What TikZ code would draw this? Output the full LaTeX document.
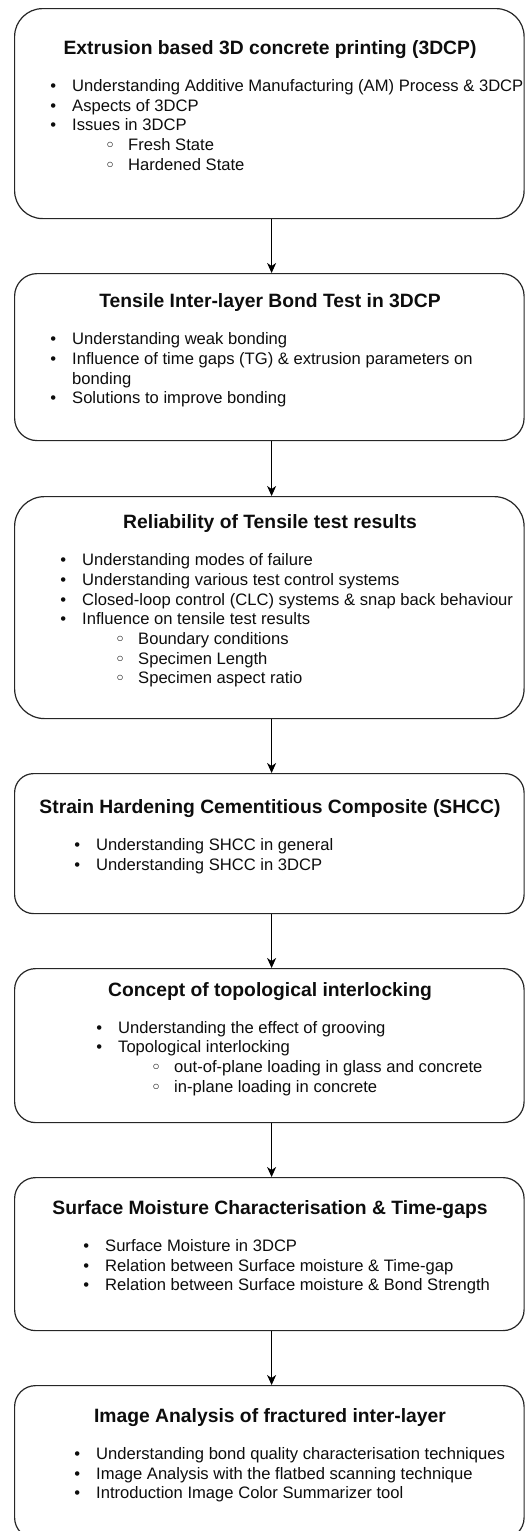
\documentclass[tikz,border=0pt]{standalone}
\usepackage{fontspec}
\setmainfont{Liberation Sans}
\newfontfamily\symfont{DejaVu Sans}
\usetikzlibrary{arrows.meta}
\newcommand\bitem[4]{\node[itm] (#1) at (#2-3,#3) {\makebox[6pt][c]{•}\hspace{16pt}#4};}
\newcommand\sitem[4]{\node[itm] (#1) at (#2+54,#3) {\makebox[6pt][c]{\symfont\bfseries\fontsize{15}{15}\selectfont ◦}\hspace{15pt}#4};}
\begin{document}
\begin{tikzpicture}[x=1pt,y=-1pt,
  box/.style={draw=black!85, line width=1.2pt, rectangle, inner sep=0pt, anchor=north west, minimum width=509.5pt},
  ttl/.style={font=\fontsize{19.3}{23}\selectfont\bfseries, anchor=base, inner sep=0pt, text=black!95},
  itm/.style={font=\fontsize{16.6}{19.7}\selectfont, anchor=base west, inner sep=0pt, text=black!95},
  arr/.style={-{Stealth[length=10pt,width=9pt,inset=3pt]}, line width=1.1pt}
]
\useasboundingbox (0,0) rectangle (525,1531);

% boxes
\node[box, minimum height=210pt, rounded corners=28pt] (b1) at (14,8) {};
\node[box, minimum height=167pt, rounded corners=22.5pt] (b2) at (14,273) {};
\node[box, minimum height=222pt, rounded corners=30pt] (b3) at (14,496) {};
\node[box, minimum height=140pt, rounded corners=19pt] (b4) at (14,773) {};
\node[box, minimum height=154pt, rounded corners=21pt] (b5) at (14,968) {};
\node[box, minimum height=153pt, rounded corners=21pt] (b6) at (14,1177) {};
\node[box, minimum height=153pt, rounded corners=21pt] (b7) at (14,1385) {};

% arrows
\draw[arr] ([xshift=2.25pt]b1.south) -- ([xshift=2.25pt]b2.north);
\draw[arr] ([xshift=2.25pt]b2.south) -- ([xshift=2.25pt]b3.north);
\draw[arr] ([xshift=2.25pt]b3.south) -- ([xshift=2.25pt]b4.north);
\draw[arr] ([xshift=2.25pt]b4.south) -- ([xshift=2.25pt]b5.north);
\draw[arr] ([xshift=2.25pt]b5.south) -- ([xshift=2.25pt]b6.north);
\draw[arr] ([xshift=2.25pt]b6.south) -- ([xshift=2.25pt]b7.north);

% box 1
\node[ttl] (t1) at (270,54) {Extrusion based 3D concrete printing (3DCP)};
\bitem{a1}{53}{91}{Understanding Additive Manufacturing (AM) Process \& 3DCP}
\bitem{a2}{53}{111}{Aspects of 3DCP}
\bitem{a3}{53}{130.5}{Issues in 3DCP}
\sitem{a4}{53}{150}{Fresh State}
\sitem{a5}{53}{170}{Hardened State}

% box 2
\node[ttl] (t2) at (270,307.5) {Tensile Inter-layer Bond Test in 3DCP};
\bitem{c1}{53}{344.5}{Understanding weak bonding}
\bitem{c2}{53}{364}{Influence of time gaps (TG) \& extrusion parameters on}
\node[itm] (c3) at (72,384) {bonding};
\bitem{c4}{53}{403.5}{Solutions to improve bonding}

% box 3
\node[ttl] (t3) at (270,528.5) {Reliability of Tensile test results};
\bitem{d1}{63}{565.5}{Understanding modes of failure}
\bitem{d2}{63}{585}{Understanding various test control systems}
\bitem{d3}{63}{605}{Closed-loop control (CLC) systems \& snap back behaviour}
\bitem{d4}{63}{624.5}{Influence on tensile test results}
\sitem{d5}{63}{644}{Boundary conditions}
\sitem{d6}{63}{664}{Specimen Length}
\sitem{d7}{63}{683.5}{Specimen aspect ratio}

% box 4
\node[ttl] (t4) at (270,813.5) {Strain Hardening Cementitious Composite (SHCC)};
\bitem{e1}{77}{850.5}{Understanding SHCC in general}
\bitem{e2}{77}{870}{Understanding SHCC in 3DCP}

% box 5
\node[ttl] (t5) at (270,996) {Concept of topological interlocking};
\bitem{f1}{99}{1033}{Understanding the effect of grooving}
\bitem{f2}{99}{1052.5}{Topological interlocking}
\sitem{f3}{99}{1072.5}{out-of-plane loading in glass and concrete}
\sitem{f4}{99}{1092}{in-plane loading in concrete}

% box 6
\node[ttl] (t6) at (270,1214.5) {Surface Moisture Characterisation \& Time-gaps};
\bitem{g1}{86}{1251.5}{Surface Moisture in 3DCP}
\bitem{g2}{86}{1271}{Relation between Surface moisture \& Time-gap}
\bitem{g3}{86}{1290.5}{Relation between Surface moisture \& Bond Strength}

% box 7
\node[ttl] (t7) at (270,1422.5) {Image Analysis of fractured inter-layer};
\bitem{h1}{77}{1459.5}{Understanding bond quality characterisation techniques}
\bitem{h2}{77}{1479}{Image Analysis with the flatbed scanning technique}
\bitem{h3}{77}{1498.5}{Introduction Image Color Summarizer tool}
\end{tikzpicture}
\end{document}
